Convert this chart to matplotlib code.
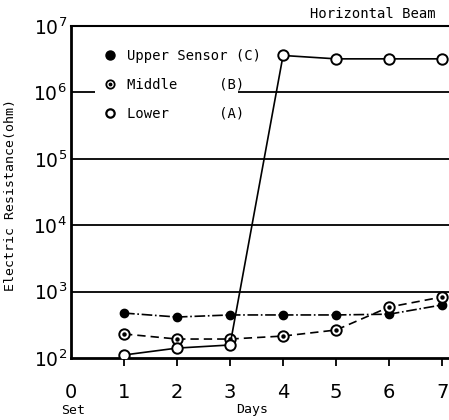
import matplotlib
matplotlib.use('Agg')
import matplotlib.pyplot as plt
from matplotlib.lines import Line2D
from matplotlib.legend_handler import HandlerTuple

# resistance readings (ohm) per day for each sensor position
days = [1, 2, 3, 4, 5, 6, 7]
upper_c = [475, 414, 445, 445, 445, 457, 630]
middle_b = [230, 193, 193, 214, 264, 585, 830]
lower_a = [111, 141, 157, 3.6e6, 3.2e6, 3.2e6, 3.2e6]

x_ticks = [0, 1, 2, 3, 4, 5, 6, 7]
x_labels = ['0', '1', '2', '3', '4', '5', '6', '7']
y_ticks = [1e2, 1e3, 1e4, 1e5, 1e6, 1e7]
y_labels = [r'$\mathregular{10^{%d}}$' % p for p in range(2, 8)]

mono = 'DejaVu Sans Mono'

fig = plt.figure(figsize=(4.49, 4.20), dpi=100)
ax = fig.add_axes([71 / 449, 62 / 420, 378 / 449, 332 / 420])
ax.set_yscale('log')
xmax = 7.13
ax.set_xlim(0, xmax)
ax.set_ylim(1e2, 1e7)

for s in ['left', 'bottom']:
    ax.spines[s].set_linewidth(2.0)
ax.spines['top'].set_linewidth(1.5)
ax.spines['right'].set_visible(False)

# decade lines, the 1e6 one broken where the legend sits
ax.hlines([1e3, 1e4, 1e5], 0, xmax, colors='k', lw=1.3)
ax.hlines(1e6, 0, 0.45, colors='k', lw=1.3)
ax.hlines(1e6, 3.15, xmax, colors='k', lw=1.3)

ax.plot(days, upper_c, color='k', ls='-.', lw=1.2, marker='o', ms=6,
        mfc='k', mec='k', zorder=3)
ax.plot(days, middle_b, color='k', ls='--', lw=1.2, dashes=(5, 3),
        marker='o', ms=7.5, mfc='white', mec='k', mew=1.4, zorder=3)
ax.plot(days, middle_b, ls='none', marker='o', ms=2.2, color='k', zorder=4)
ax.plot(days, lower_a, color='k', ls='-', lw=1.2, marker='o', ms=7.5,
        mfc='white', mec='k', mew=1.4, zorder=5)

ax.set_xticks(x_ticks)
ax.set_xticklabels(x_labels, fontsize=14, family='DejaVu Sans')
ax.tick_params(axis='x', direction='out', length=6, width=1.3, pad=12)
ax.xaxis.get_major_ticks()[0].tick1line.set_visible(False)

ax.set_yticks(y_ticks)
ax.set_yticklabels(y_labels, fontsize=13.5)
ax.yaxis.set_minor_locator(matplotlib.ticker.NullLocator())
ax.tick_params(axis='y', length=0, pad=3)

h_upper = Line2D([], [], ls='none', marker='o', ms=6.5, color='k')
h_mid = (Line2D([], [], ls='none', marker='o', ms=6, mfc='white', mec='k', mew=1.3),
         Line2D([], [], ls='none', marker='o', ms=1.8, color='k'))
h_low = Line2D([], [], ls='none', marker='o', ms=6, mfc='white', mec='k', mew=1.6)
ax.legend([h_upper, h_mid, h_low],
          ['Upper Sensor (C)', 'Middle     (B)', 'Lower      (A)'],
          handler_map={tuple: HandlerTuple(ndivide=1)},
          loc='upper left', bbox_to_anchor=(0.085, 0.93), frameon=False,
          prop={'family': mono, 'size': 10}, handlelength=1.0,
          handletextpad=0.7, labelspacing=1.05, borderpad=0, borderaxespad=0)

fig.text(373 / 449, 1 - 14 / 420, 'Horizontal Beam', family=mono, fontsize=10,
         ha='center', va='center')
fig.text(11 / 449, 1 - 195 / 420, 'Electric Resistance(ohm)', family=mono,
         fontsize=9.5, rotation=90, ha='center', va='center')
fig.text(73 / 449, 1 - 410 / 420, 'Set', family=mono, fontsize=9.5,
         ha='center', va='center')
fig.text(252 / 449, 1 - 410 / 420, 'Days', family=mono, fontsize=9.5,
         ha='center', va='center')

fig.savefig('out.png', dpi=100)
